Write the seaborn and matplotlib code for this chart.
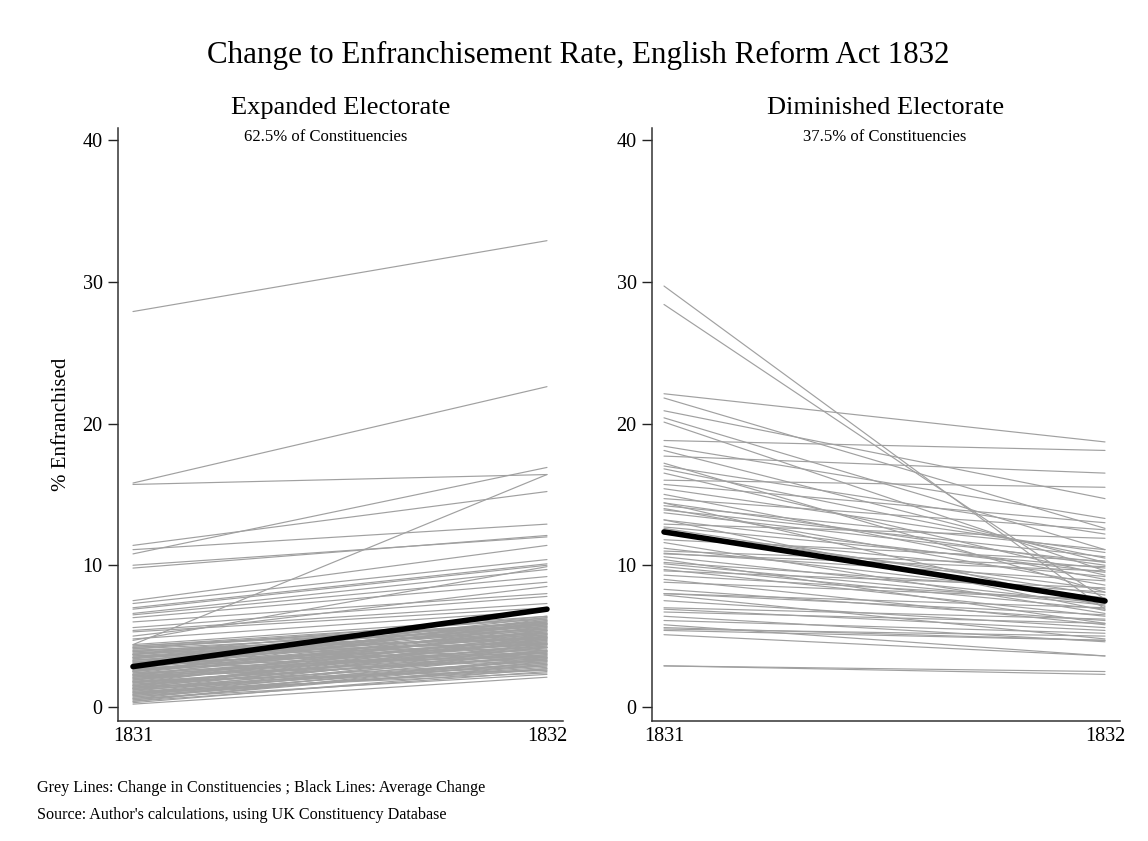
import numpy as np
import pandas as pd
import matplotlib
matplotlib.use("Agg")
import matplotlib.pyplot as plt
import seaborn as sns

# ---------------- data ----------------
years = [1831, 1832]

# Expanded electorate: constituency values (% enfranchised) in 1831 and 1832
exp_1831 = [27.9, 15.8, 15.7, 4.4, 11.4, 11.1, 10.8, 10.0, 9.8, 7.5, 7.3, 7.0, 6.9, 6.6,
            6.5, 6.3, 6.0, 5.6, 5.4, 5.3, 5.0, 4.8, 4.7,
            0.2, 0.4, 0.5, 0.6, 0.7, 0.8, 0.9, 1.0, 1.0, 1.1, 1.2, 1.3, 1.3, 1.4, 1.5, 1.5,
            1.6, 1.7, 1.7, 1.8, 1.9, 1.9, 2.0, 2.0, 2.1, 2.2, 2.2, 2.3, 2.3, 2.4, 2.5, 2.5,
            2.6, 2.6, 2.7, 2.8, 2.8, 2.9, 3.0, 3.0, 3.1, 3.1, 3.2, 3.3, 3.3, 3.4, 3.5, 3.5,
            3.6, 3.7, 3.7, 3.8, 3.9, 4.0, 4.1, 4.2, 4.3, 4.4,
            0.3, 0.6, 0.9, 1.2, 1.6, 2.1, 2.4, 2.7, 3.2, 3.6, 4.0, 1.4, 1.8, 2.9, 0.8, 1.1,
            0.5, 0.7, 1.0, 1.3, 1.5, 1.7, 1.9, 2.1, 2.3, 2.5, 2.7, 2.9, 3.1, 3.3, 3.5,
            3.7, 3.9, 4.1, 4.3, 0.4, 0.9, 1.4, 1.8, 2.2, 2.6, 3.0, 3.4, 3.8, 4.2, 1.2]
exp_1832 = [32.9, 22.6, 16.4, 16.4, 15.2, 12.9, 16.9, 12.0, 12.1, 11.4, 10.4, 10.1, 10.0, 9.7,
            9.2, 8.8, 8.0, 7.8, 7.3, 7.0, 8.5, 6.8, 9.9,
            2.1, 2.5, 3.0, 2.3, 3.4, 2.8, 3.9, 2.6, 3.3, 4.2, 3.0, 3.6, 4.8, 2.9, 3.8, 4.4,
            3.2, 5.1, 4.0, 3.5, 4.6, 5.4, 3.7, 4.9, 4.1, 5.7, 3.4, 4.5, 5.2, 3.9, 4.8, 6.0,
            4.3, 5.5, 3.6, 5.0, 6.2, 4.7, 5.8, 4.4, 5.3, 6.3, 4.9, 5.6, 4.2, 6.1, 5.1, 5.9,
            4.6, 6.4, 5.4, 5.7, 6.0, 5.2, 6.3, 5.8, 6.2, 6.4,
            2.7, 3.5, 3.1, 4.5, 4.2, 3.3, 5.3, 5.9, 3.8, 5.5, 4.8, 5.0, 2.6, 5.6, 3.7, 2.4,
            3.2, 2.9, 4.0, 3.1, 4.7, 3.6, 4.3, 5.0, 3.8, 5.4, 4.5, 6.1, 4.0, 5.2, 4.4,
            5.8, 4.9, 5.5, 5.9, 3.4, 2.7, 3.9, 4.8, 4.2, 5.1, 3.5, 5.7, 4.5, 6.0, 3.3]

# Diminished electorate
dim_1831 = [29.7, 28.4, 22.1, 21.8, 20.9, 20.4, 20.1, 18.8, 18.4, 18.1, 17.7, 17.2, 17.0,
            16.8, 16.5, 16.0, 15.7, 15.4, 15.0, 14.7, 14.4, 14.4, 14.2, 14.0, 13.7, 13.2,
            13.2, 12.9, 12.7, 12.6, 12.2, 11.8, 11.6, 11.2, 10.85, 10.8, 10.6, 10.4, 10.2,
            9.9, 9.6, 9.3, 9.0, 8.0, 8.0, 7.9, 7.0, 6.7, 6.4, 6.1, 5.8, 5.5, 5.4, 5.1,
            2.9, 2.9,
            13.9, 12.3, 11.0, 10.1, 9.7, 8.8, 8.3, 7.5, 6.9, 5.6]
dim_1832 = [6.9, 7.6, 18.7, 12.6, 14.7, 11.1, 9.6, 18.1, 13.3, 10.2, 16.5, 8.1, 12.2,
            10.5, 9.3, 15.5, 13.0, 10.9, 9.0, 12.5, 10.0, 7.1, 11.1, 8.6, 10.2, 9.5,
            6.8, 11.9, 9.8, 7.9, 9.2, 10.3, 6.6, 7.7, 8.9, 9.6, 7.3, 5.9, 8.1,
            6.9, 8.4, 7.5, 5.8, 6.5, 7.0, 4.8, 6.2, 5.9, 4.6, 5.2, 3.6, 5.0, 4.7, 3.6,
            2.5, 2.3,
            10.6, 8.3, 9.9, 7.2, 6.4, 7.6, 6.1, 5.6, 5.4, 4.7]

avg_expanded = [2.85, 6.9]
avg_diminished = [12.35, 7.48]

panel_titles = ["Expanded Electorate", "Diminished Electorate"]
panel_shares = ["62.5% of Constituencies", "37.5% of Constituencies"]
y_ticks = [0, 10, 20, 30, 40]

# ---------------- build frames ----------------
def long_frame(v31, v32):
    n = len(v31)
    return pd.DataFrame({
        "id": list(range(n)) * 2,
        "year": [years[0]] * n + [years[1]] * n,
        "pct": list(v31) + list(v32),
    })

frames = [long_frame(exp_1831, exp_1832), long_frame(dim_1831, dim_1832)]
avgs = [pd.DataFrame({"year": years, "pct": avg_expanded}),
        pd.DataFrame({"year": years, "pct": avg_diminished})]

# ---------------- style ----------------
sns.set_theme(style="white")
plt.rcParams["font.family"] = ["Liberation Serif", "DejaVu Serif"]
plt.rcParams["axes.edgecolor"] = "#333333"

W, H = 1148, 841
fig = plt.figure(figsize=(W / 100, H / 100), dpi=100)
fig.patch.set_facecolor("white")

# axes rectangles in pixels: (left, right, top, bottom)
rects = [(118, 563, 128, 721), (652, 1120, 128, 721)]
xlims = [(1831 - 0.0362, 1832 + 0.0387), (1831 - 0.0272, 1832 + 0.034)]
share_x = [0.467, 0.497]

grey = "#a0a0a0"
for i, (l, r, t, b) in enumerate(rects):
    ax = fig.add_axes([l / W, 1 - b / H, (r - l) / W, (b - t) / H])
    sns.lineplot(data=frames[i], x="year", y="pct", units="id", estimator=None,
                 color=grey, linewidth=0.85, ax=ax, legend=False)
    sns.lineplot(data=avgs[i], x="year", y="pct", estimator=None, color="black",
                 linewidth=4.0, ax=ax, legend=False, solid_capstyle="round")
    ax.set_xlim(*xlims[i])
    ax.set_ylim(-0.99, 40.85)
    ax.set_xticks(years)
    ax.set_xticklabels([str(y) for y in years], fontsize=14.5)
    ax.set_yticks(y_ticks)
    ax.set_yticklabels([str(v) for v in y_ticks], fontsize=14.5)
    ax.tick_params(axis="y", which="both", left=True, length=7, width=1.0,
                   color="#222222", pad=4, labelcolor="black")
    ax.tick_params(axis="x", which="both", bottom=False, length=0, pad=4,
                   labelcolor="black")
    ax.set_xlabel("")
    ax.set_ylabel("")
    for s in ["top", "right"]:
        ax.spines[s].set_visible(False)
    for s in ["left", "bottom"]:
        ax.spines[s].set_linewidth(1.1)
        ax.spines[s].set_color("#333333")
    ax.grid(False)
    ax.text(share_x[i], 0.985, panel_shares[i], transform=ax.transAxes,
            ha="center", va="center", fontsize=12, color="black")
    fig.text(((l + r) / 2) / W, 1 - 108 / H, panel_titles[i], ha="center",
             va="center", fontsize=19, color="black")

fig.text(578 / W, 1 - 55 / H, "Change to Enfranchisement Rate, English Reform Act 1832",
         ha="center", va="center", fontsize=22.3, color="black")
fig.text(62 / W, 1 - 424 / H, "% Enfranchised", rotation=90, ha="center", va="center",
         fontsize=15, color="black")
fig.text(37 / W, 1 - 788 / H,
         "Grey Lines: Change in Constituencies ; Black Lines: Average Change",
         ha="left", va="center", fontsize=11.6, color="black")
fig.text(37 / W, 1 - 815 / H,
         "Source: Author's calculations, using UK Constituency Database",
         ha="left", va="center", fontsize=11.6, color="black")

fig.savefig("out.png", dpi=100, facecolor="white")
